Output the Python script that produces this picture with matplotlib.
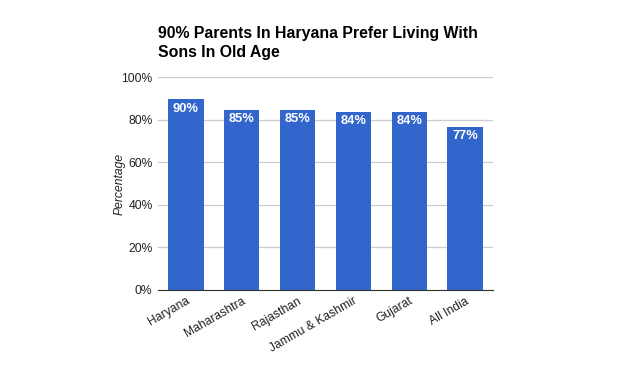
import matplotlib.pyplot as plt

plt.rcParams['font.family'] = ['Liberation Sans', 'DejaVu Sans']

states = ['Haryana', 'Maharashtra', 'Rajasthan', 'Jammu & Kashmir', 'Gujarat', 'All India']
values = [89.8, 84.7, 84.7, 83.8, 83.8, 76.8]
labels = ['90%', '85%', '85%', '84%', '84%', '77%']
yticks = [0, 20, 40, 60, 80, 100]

fig = plt.figure(figsize=(6.37, 3.73), dpi=100)
ax = fig.add_axes([158 / 637, 1 - 289.5 / 373, 335 / 637, 212 / 373])

x = range(len(states))
ax.bar(x, values, width=0.63, color='#3366cc', zorder=3)
for i, (v, lab) in enumerate(zip(values, labels)):
    ax.text(i, v - 1.6, lab, ha='center', va='top', color='white',
            fontsize=9.3, fontweight='bold', zorder=4)

ax.set_xlim(-0.5, len(states) - 0.5)
ax.set_ylim(0, 100)
ax.set_yticks(yticks)
ax.set_yticklabels([f'{t}%' for t in yticks], fontsize=8.7, color='#222222')
ax.grid(axis='y', color='#cccccc', lw=0.9, zorder=0)
ax.tick_params(length=0, pad=4)
ax.set_xticks(list(x))
ax.set_xticklabels(states, rotation=30, ha='right', rotation_mode='anchor',
                   fontsize=8.7, color='#222222')
for s in ['top', 'right', 'left']:
    ax.spines[s].set_visible(False)
ax.spines['bottom'].set_color('#333333')
ax.spines['bottom'].set_zorder(5)

ax.set_ylabel('Percentage', fontsize=8.7, style='italic', color='#222222')
ax.yaxis.set_label_coords(-0.098, 0.5)

fig.text(158 / 637, 1 - 43 / 373,
         '90% Parents In Haryana Prefer Living With\nSons In Old Age',
         fontsize=11.4, fontweight='bold', ha='left', va='center', linespacing=1.4)

fig.savefig('out.png', dpi=100)
